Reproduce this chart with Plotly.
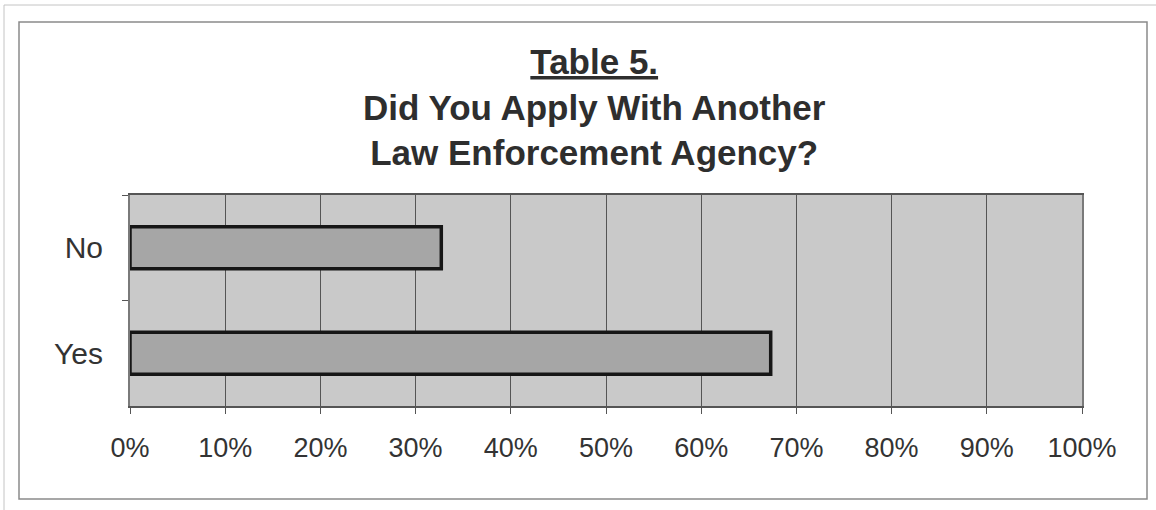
import plotly.graph_objects as go

categories = ["No", "Yes"]
values = [32.7, 67.3]
tick_vals = [0, 10, 20, 30, 40, 50, 60, 70, 80, 90, 100]
tick_text = ["0%", "10%", "20%", "30%", "40%", "50%", "60%", "70%", "80%", "90%", "100%"]
title_lines = ["<u>Table 5.</u>", "Did You Apply With Another", "Law Enforcement Agency?"]

W, H = 1156, 510
L, R, T, B = 130, 1082, 195, 406

def px(x):
    return (x - L) / (R - L)

def py(y):
    return (B - y) / (B - T)

fig = go.Figure()
fig.add_trace(go.Bar(
    x=values, y=categories, orientation="h",
    marker=dict(color="#a6a6a6", line=dict(color="#161616", width=3.5)),
    hoverinfo="skip",
))

fig.update_layout(
    width=W, height=H,
    margin=dict(l=L, r=W - R, t=T, b=H - B, pad=0),
    paper_bgcolor="white",
    plot_bgcolor="#c9c9c9",
    bargap=0.6,
    showlegend=False,
    font=dict(family="Liberation Sans, Arial, sans-serif", color="#2e2e2e"),
    xaxis=dict(
        range=[0, 100], tickvals=tick_vals, ticktext=tick_text,
        showgrid=True, gridcolor="#555555", gridwidth=1,
        ticks="outside", ticklen=6, tickcolor="#555", tickwidth=1,
        showline=True, linecolor="#555555", linewidth=2, mirror=True,
        tickfont=dict(size=27, color="#333"),
        ticklabelstandoff=11, zeroline=False, fixedrange=True,
    ),
    yaxis=dict(
        categoryorder="array", categoryarray=categories, autorange="reversed",
        tickson="boundaries", ticks="outside", ticklen=6, tickcolor="#555",
        showgrid=False,
        showline=True, linecolor="#7a7a7a", linewidth=2, mirror=True,
        tickfont=dict(size=30, color="#333"),
        ticklabelstandoff=19, fixedrange=True,
    ),
)

fig.add_annotation(
    text="<br>".join(title_lines),
    xref="paper", yref="paper", x=px(594), y=py(40),
    xanchor="center", yanchor="top", showarrow=False, align="center",
    font=dict(size=35, color="#2e2e2e", family="Liberation Sans, Arial, sans-serif", weight="bold"),
)

# outer frames
fig.add_shape(type="rect", xref="paper", yref="paper",
              x0=px(19), x1=px(1147), y0=py(499), y1=py(22),
              line=dict(color="#8a8a8a", width=1.5), layer="below")
fig.add_shape(type="line", xref="paper", yref="paper",
              x0=px(4), x1=px(1156), y0=py(5), y1=py(5),
              line=dict(color="#c4c4c4", width=1), layer="below")
fig.add_shape(type="line", xref="paper", yref="paper",
              x0=px(4), x1=px(4), y0=py(5), y1=py(510),
              line=dict(color="#c4c4c4", width=1), layer="below")

fig.write_html("out.html")
